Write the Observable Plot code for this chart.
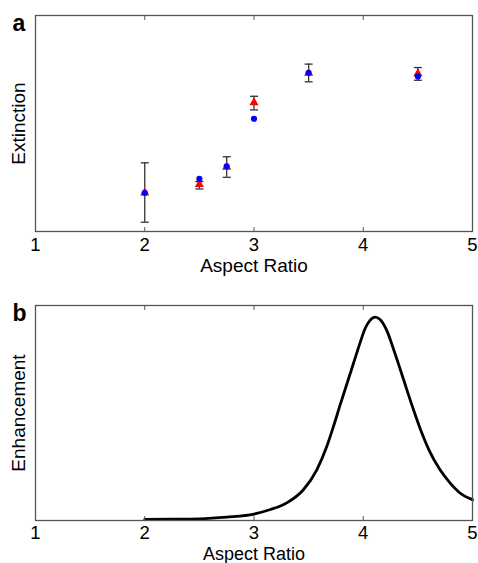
<!DOCTYPE html>
<html><head><meta charset="utf-8">
<script src="https://cdn.jsdelivr.net/npm/d3@7"></script>
<script src="https://cdn.jsdelivr.net/npm/@observablehq/plot@0.6"></script>
<style>
html,body{margin:0;padding:0;background:#fff;overflow:hidden;}
#chart svg{display:block;}
</style></head><body><div id="chart"></div>
<script>
// Panel a: extinction vs aspect ratio (arbitrary units, 0-100)
const aspectRatios = [2, 2.5, 2.75, 3, 3.5, 4.5];
const measuredMean = [17.9, 21.8, 29.8, 59.7, 73.3, 73.1];   // red triangles
const measuredLow  = [4.3, 19.7, 25.1, 56.3, 69.3, 70.0];
const measuredHigh = [31.8, 23.1, 34.6, 62.6, 77.5, 75.9];
const simulated    = [17.9, 24.4, 30.2, 52.2, 73.5, 71.8];   // blue circles

// Panel b: enhancement vs aspect ratio (arbitrary units, 0-100)
const curveX = [2.0, 2.25, 2.5, 2.75, 3.0, 3.15, 3.3, 3.45, 3.575, 3.666, 3.727, 3.79, 3.85, 3.91, 3.97, 4.016, 4.062, 4.108, 4.154, 4.215, 4.275, 4.336, 4.398, 4.46, 4.53, 4.6, 4.7, 4.79, 4.885, 5.0];
const curveY = [0.5, 0.6, 0.8, 1.6, 3.0, 5.1, 8.2, 14.2, 23.6, 34.4, 43.7, 54.0, 63.5, 73.0, 82.5, 89.2, 93.1, 94.6, 93.5, 88.4, 80.0, 70.7, 61.0, 51.5, 41.5, 33.0, 23.8, 17.7, 12.8, 9.7];

const xTicks = [1, 2, 3, 4, 5];
const innerTicks = [2, 3, 4];

const points = aspectRatios.map((x, i) => ({x, mean: measuredMean[i], lo: measuredLow[i], hi: measuredHigh[i], sim: simulated[i]}));
const curve = curveX.map((x, i) => ({x, y: curveY[i]}));

const capSymbol = {draw(ctx) { ctx.moveTo(-4, 0); ctx.lineTo(4, 0); }};

function panel({height, marginBottom, tickPadding, labelDy, labelSize, marks, yLabel, letter}) {
  return Plot.plot({
    width: 478, height,
    marginLeft: 35, marginRight: 6, marginTop: 15, marginBottom,
    x: {domain: [1, 5], label: null},
    y: {domain: [0, 100], axis: null, label: null},
    style: {fontFamily: "'Liberation Sans', Arial, sans-serif", fontSize: "19px", color: "#000", background: "#fff"},
    marks: [
      ...marks,
      Plot.frame({stroke: "#555", strokeWidth: 1.3}),
      Plot.axisX({ticks: xTicks, tickSize: 0, tickPadding, fontSize: 18.5, label: null, tickFormat: d => String(d)}),
      Plot.axisX({anchor: "bottom", ticks: innerTicks, tickSize: 4, dy: -4, text: null, label: null, stroke: "#555"}),
      Plot.axisX({anchor: "top", ticks: innerTicks, tickSize: 4, dy: 4, text: null, label: null, stroke: "#555"}),
      Plot.text([yLabel], {text: d => d, frameAnchor: "left", textAnchor: "middle", rotate: -90, dx: -17, fontSize: 19}),
      Plot.text(["Aspect Ratio"], {text: d => d, frameAnchor: "bottom", dy: labelDy, lineAnchor: "bottom", fontSize: labelSize}),
      Plot.text([letter], {text: d => d, frameAnchor: "top-left", dx: -23, dy: 15, lineAnchor: "bottom", textAnchor: "start", fontSize: 23, fontWeight: "bold"})
    ]
  });
}

const chartA = panel({
  height: 290, marginBottom: 59, tickPadding: 6, labelDy: 40, labelSize: 19, yLabel: "Extinction", letter: "a",
  marks: [
    Plot.ruleX(points, {x: "x", y1: "lo", y2: "hi", stroke: "#333", strokeWidth: 1.3}),
    Plot.dot(points, {x: "x", y: "lo", symbol: capSymbol, fill: "none", stroke: "#333", strokeWidth: 1.3}),
    Plot.dot(points, {x: "x", y: "hi", symbol: capSymbol, fill: "none", stroke: "#333", strokeWidth: 1.3}),
    Plot.dot(points, {x: "x", y: "mean", symbol: "triangle", r: 3.4, fill: "#ff0000", stroke: "none"}),
    Plot.dot(points, {x: "x", y: "sim", symbol: "circle", r: 3.1, fill: "#0000ff", stroke: "none"})
  ]
});

const chartB = panel({
  height: 273, marginBottom: 43, tickPadding: 5, labelDy: 39, labelSize: 18, yLabel: "Enhancement", letter: "b",
  marks: [
    Plot.line(curve, {x: "x", y: "y", stroke: "#000", strokeWidth: 2.8, curve: "monotone-x"})
  ]
});

const root = document.getElementById("chart");
root.appendChild(chartA);
root.appendChild(chartB);
</script>
</body></html>
